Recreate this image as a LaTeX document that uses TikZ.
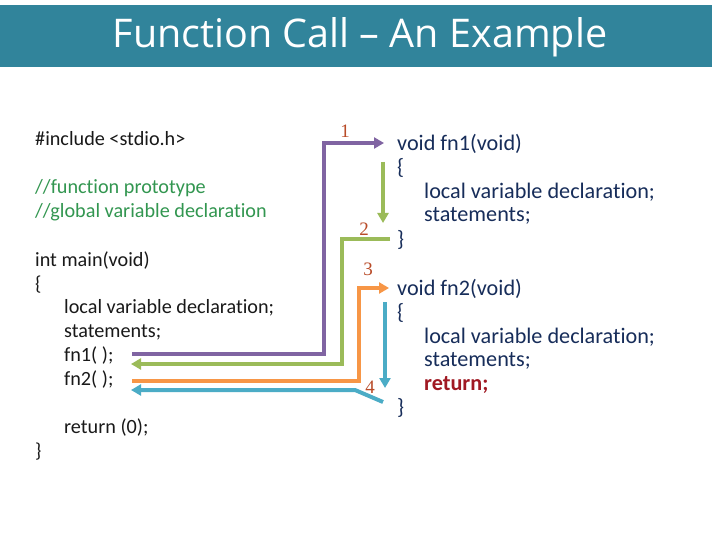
\documentclass[tikz,border=0pt]{standalone}
\usepackage{fontspec}
\setmainfont[Ligatures=NoCommon]{Carlito}
\newfontfamily\titlefont{Open Sans}
\newfontfamily\numfont{Liberation Serif}
\usetikzlibrary{arrows.meta}
\definecolor{banner}{RGB}{49,132,155}
\definecolor{cpurple}{RGB}{128,100,162}
\definecolor{cgreen}{RGB}{155,187,89}
\definecolor{corange}{RGB}{247,150,70}
\definecolor{cblue}{RGB}{75,172,198}
\definecolor{numcol}{RGB}{185,75,40}
\definecolor{navy}{RGB}{23,45,90}
\definecolor{comment}{RGB}{50,150,80}
\definecolor{retred}{RGB}{160,25,35}
\begin{document}
\begin{tikzpicture}[x=1pt,y=-1pt,
  codeL/.style={anchor=base west,inner sep=0pt,font=\fontsize{20.2}{24}\selectfont,text=black!90},
  codeR/.style={anchor=base west,inner sep=0pt,font=\fontsize{22.2}{26}\selectfont,text=navy},
  numlbl/.style={inner sep=0pt,font=\numfont\fontsize{19}{22}\selectfont,text=numcol},
  flow/.style={line width=4pt,line join=miter},
  tip/.style={-{Triangle[length=10pt,width=11pt]}}]
\useasboundingbox (0,0) rectangle (720,540);
\fill[white] (0,0) rectangle (720,540);
\fill[banner] (0,5) rectangle (712,67);
\node[text=white,font=\titlefont\fontsize{39.5}{42}\selectfont,inner sep=0pt] (title) at (360,37) {Function Call – An Example};

% left code
\node[codeL] (inc) at (35,146) {\#include <stdio.h>};
\node[codeL,text=comment] (c1) at (35,194) {//function prototype};
\node[codeL,text=comment] (c2) at (35,218) {//global variable declaration};
\node[codeL] (mn) at (35,266) {int main(void)};
\node[codeL] (ob) at (35,290) {\{};
\node[codeL] (lv) at (64,313) {local variable declaration;};
\node[codeL] (st) at (64,337) {statements;};
\node[codeL] (f1) at (64,361) {fn1( );};
\node[codeL] (f2) at (64,385) {fn2( );};
\node[codeL] (rt) at (64,433) {return (0);};
\node[codeL] (cb) at (35,457) {\}};

% right code
\node[codeR] (v1) at (397,151) {void fn1(void)};
\node[codeR] (o1) at (397,175) {\{};
\node[codeR] (l1) at (424,199) {local variable declaration;};
\node[codeR] (s1) at (424,222) {statements;};
\node[codeR] (e1) at (397,246) {\}};
\node[codeR] (v2) at (397,295) {void fn2(void)};
\node[codeR] (o2) at (397,319) {\{};
\node[codeR] (l2) at (424,343) {local variable declaration;};
\node[codeR] (s2) at (424,366) {statements;};
\node[codeR,text=retred,font=\bfseries\fontsize{22.2}{26}\selectfont] (r2) at (424,390) {return;};
\node[codeR] (e2) at (397,414) {\}};

% numbers
\node[numlbl] (n1) at (345,131) {1};
\node[numlbl] (n2) at (364,229) {2};
\node[numlbl] (n3) at (368,269) {3};
\node[numlbl] (n4) at (370,387) {4};

% coordinates
\coordinate (pA) at (132,354);
\coordinate (pB) at (324,354);
\coordinate (pC) at (324,143);
\coordinate (pD) at (384,143);
\coordinate (gA) at (383,162);
\coordinate (gB) at (383,223);
\coordinate (gC) at (390,239);
\coordinate (gD) at (342,239);
\coordinate (gE) at (342,364);
\coordinate (gF) at (131,364);
\coordinate (oA) at (132,381);
\coordinate (oB) at (359,381);
\coordinate (oC) at (359,288);
\coordinate (oD) at (389,288);
\coordinate (bA) at (385,302);
\coordinate (bB) at (385,388);
\coordinate (bC) at (383,402);
\coordinate (bD) at (355,390);
\coordinate (bE) at (131,390);

\draw[flow,cpurple,tip] (pA) -- (pB) -- (pC) -- (pD);
\draw[flow,cgreen,tip] (gA) -- (gB);
\draw[flow,cgreen,tip] (gC) -- (gD) -- (gE) -- (gF);
\draw[flow,corange,tip] (oA) -- (oB) -- (oC) -- (oD);
\draw[flow,cblue,tip] (bA) -- (bB);
\draw[flow,cblue,tip] (bC) -- (bD) -- (bE);
\end{tikzpicture}
\end{document}
